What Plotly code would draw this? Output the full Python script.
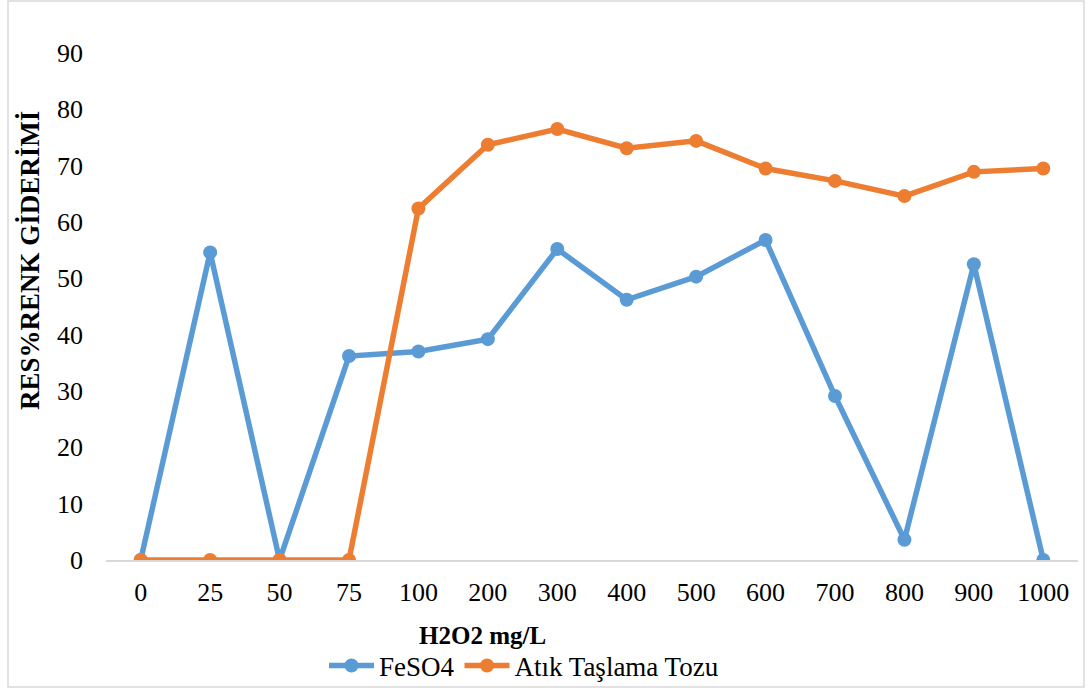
import plotly.graph_objects as go

# H2O2 dose (mg/L) used as category labels on the x axis
h2o2_doses = ["0", "25", "50", "75", "100", "200", "300", "400", "500",
              "600", "700", "800", "900", "1000"]

# Colour removal (%) for each catalyst
feso4 = [0, 54.6, 0, 36.2, 37.0, 39.2, 55.2, 46.2, 50.3, 56.8, 29.1, 3.6, 52.5, 0]
atik_taslama = [0, 0, 0, 0, 62.4, 73.7, 76.5, 73.1, 74.4, 69.5, 67.3, 64.6, 68.9, 69.5]

y_ticks = [0, 10, 20, 30, 40, 50, 60, 70, 80, 90]

FONT = "Liberation Serif, Times New Roman, serif"
BLUE = "#5B9BD5"
ORANGE = "#ED7D31"

W, H = 1089, 693
M_L, M_R, M_T, M_B = 106, 11, 53, 133
plot_w = W - M_L - M_R
plot_h = H - M_T - M_B

def px_x(p):
    return (p - M_L) / plot_w

def px_y(p):
    return (H - M_B - p) / plot_h

fig = go.Figure()
fig.add_trace(go.Scatter(
    x=h2o2_doses, y=feso4, name="FeSO4", mode="lines+markers",
    line=dict(color=BLUE, width=5.5),
    marker=dict(color=BLUE, size=14),
))
fig.add_trace(go.Scatter(
    x=h2o2_doses, y=atik_taslama, name="Atık Taşlama Tozu", mode="lines+markers",
    line=dict(color=ORANGE, width=5.5),
    marker=dict(color=ORANGE, size=14),
))

fig.update_layout(
    width=W, height=H,
    margin=dict(l=M_L, r=M_R, t=M_T, b=M_B, autoexpand=False),
    paper_bgcolor="white", plot_bgcolor="white",
    font=dict(family=FONT, size=26, color="black"),
    showlegend=True,
    legend=dict(
        orientation="h", x=px_x(524), xanchor="center",
        y=px_y(666), yanchor="middle",
        font=dict(family=FONT, size=27, color="black"),
        itemwidth=45, tracegroupgap=0,
        bgcolor="rgba(0,0,0,0)",
    ),
    xaxis=dict(
        type="category", categoryorder="array", categoryarray=h2o2_doses,
        range=[-0.5, 13.5],
        showgrid=False, zeroline=False,
        showline=True, linecolor="#d9d9d9", linewidth=1.5,
        ticks="", ticklabelstandoff=8,
        tickfont=dict(family=FONT, size=26),
    ),
    yaxis=dict(
        range=[0, 90], tickvals=y_ticks,
        showgrid=False, zeroline=False, showline=False,
        ticks="", ticklabelstandoff=22,
        tickfont=dict(family=FONT, size=26),
    ),
    shapes=[dict(
        type="rect", xref="paper", yref="paper",
        x0=px_x(8), x1=px_x(1084), y0=px_y(687), y1=px_y(1),
        line=dict(color="#d9d9d9", width=1.5), fillcolor="rgba(0,0,0,0)",
        layer="below",
    )],
    annotations=[
        dict(text="<b>H2O2 mg/L</b>", xref="paper", yref="paper",
             x=px_x(482), y=px_y(635), xanchor="center", yanchor="middle",
             showarrow=False, font=dict(family=FONT, size=25)),
        dict(text="<b>RES%RENK GİDERİMİ</b>", xref="paper", yref="paper",
             x=px_x(30), y=px_y(261), xanchor="center", yanchor="middle",
             textangle=-90, showarrow=False, font=dict(family=FONT, size=27)),
    ],
)

fig.write_html("out.html")
